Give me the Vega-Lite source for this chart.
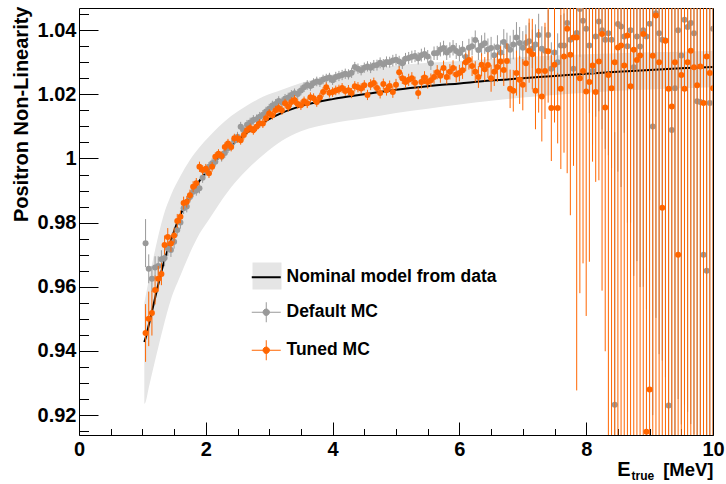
{
"$schema": "https://vega.github.io/schema/vega-lite/v6.json",
"width": 634, "height": 427,
"autosize": {"type": "none"},
"padding": {"left": 79, "top": 8, "right": 13, "bottom": 49},
"background": "white",
"config": {
 "view": {"stroke": "black", "strokeWidth": 1},
 "axis": {"grid": false, "domain": false, "labelFont": "Liberation Sans", "labelFontWeight": "bold", "labelFontSize": 20, "labelColor": "black", "titleFont": "Liberation Sans", "titleFontWeight": "bold", "titleFontSize": 20, "titleColor": "black", "tickColor": "black", "tickWidth": 1},
 "legend": {"labelFont": "Liberation Sans", "labelFontWeight": "bold", "labelFontSize": 17.5, "labelColor": "black", "labelLimit": 400}
},
"datasets": {
 "band": [
  {"x":1.03,"nom":0.9428,"lo":0.9235,"hi":0.955},
  {"x":1.05,"nom":0.944,"lo":0.924,"hi":0.957},
  {"x":1.1,"nom":0.948,"lo":0.9285,"hi":0.962},
  {"x":1.2,"nom":0.9565,"lo":0.937,"hi":0.9715},
  {"x":1.33,"nom":0.967,"lo":0.9475,"hi":0.982},
  {"x":1.45,"nom":0.9745,"lo":0.956,"hi":0.9885},
  {"x":1.6,"nom":0.9825,"lo":0.9635,"hi":0.9945},
  {"x":1.75,"nom":0.9883,"lo":0.9705,"hi":0.9995},
  {"x":1.9,"nom":0.993,"lo":0.9765,"hi":1.0035},
  {"x":2.05,"nom":0.9968,"lo":0.981,"hi":1.0068},
  {"x":2.2,"nom":1.0005,"lo":0.9855,"hi":1.0098},
  {"x":2.4,"nom":1.004,"lo":0.991,"hi":1.0132},
  {"x":2.65,"nom":1.008,"lo":0.9965,"hi":1.0165},
  {"x":2.9,"nom":1.0112,"lo":1.001,"hi":1.0192},
  {"x":3.2,"nom":1.0142,"lo":1.0055,"hi":1.0214},
  {"x":3.5,"nom":1.0163,"lo":1.0085,"hi":1.0235},
  {"x":4.0,"nom":1.0185,"lo":1.011,"hi":1.0262},
  {"x":4.5,"nom":1.02,"lo":1.0125,"hi":1.0278},
  {"x":5.0,"nom":1.0214,"lo":1.0142,"hi":1.029},
  {"x":5.5,"nom":1.0225,"lo":1.0155,"hi":1.0298},
  {"x":6.0,"nom":1.0234,"lo":1.0168,"hi":1.0304},
  {"x":6.5,"nom":1.0243,"lo":1.018,"hi":1.031},
  {"x":7.0,"nom":1.025,"lo":1.019,"hi":1.0316},
  {"x":7.5,"nom":1.0257,"lo":1.0198,"hi":1.0321},
  {"x":8.0,"nom":1.0264,"lo":1.0205,"hi":1.0325},
  {"x":8.5,"nom":1.027,"lo":1.0211,"hi":1.0328},
  {"x":9.0,"nom":1.0276,"lo":1.0215,"hi":1.0331},
  {"x":9.5,"nom":1.0281,"lo":1.0219,"hi":1.0333},
  {"x":10.0,"nom":1.0285,"lo":1.0222,"hi":1.0335}
 ],
 "def": [
  {"x":1.05,"y":0.9736,"e":0.0075},{"x":1.1,"y":0.9656,"e":0.0045},{"x":1.15,"y":0.9625,"e":0.004},{"x":1.2,"y":0.966,"e":0.0035},
  {"x":1.25,"y":0.9665,"e":0.003},{"x":1.3,"y":0.9686,"e":0.0028},{"x":1.35,"y":0.969,"e":0.0026},{"x":1.4,"y":0.972,"e":0.0024},
  {"x":1.45,"y":0.9715,"e":0.0022},{"x":1.5,"y":0.974,"e":0.0021},{"x":1.55,"y":0.9777,"e":0.002},{"x":1.6,"y":0.98,"e":0.0019},
  {"x":1.65,"y":0.9845,"e":0.0018},{"x":1.7,"y":0.985,"e":0.0018},{"x":1.75,"y":0.988,"e":0.0017},{"x":1.8,"y":0.9896,"e":0.0017},
  {"x":1.85,"y":0.99,"e":0.0016},{"x":1.9,"y":0.9907,"e":0.0016},{"x":1.95,"y":0.994,"e":0.0016},{"x":2.0,"y":0.996,"e":0.0015},
  {"x":2.05,"y":0.9974,"e":0.0015},{"x":2.1,"y":0.9985,"e":0.0015},{"x":2.15,"y":0.999,"e":0.0015},{"x":2.2,"y":1.001,"e":0.0015},
  {"x":2.25,"y":1.0005,"e":0.0015},{"x":2.3,"y":1.0017,"e":0.0015},{"x":2.35,"y":1.0032,"e":0.0015},{"x":2.4,"y":1.004,"e":0.0015},
  {"x":2.45,"y":1.0057,"e":0.0015},{"x":2.5,"y":1.0068,"e":0.0015},{"x":2.55,"y":1.0099,"e":0.0015},{"x":2.6,"y":1.0088,"e":0.0015},
  {"x":2.65,"y":1.0105,"e":0.0015},{"x":2.7,"y":1.0112,"e":0.0015},{"x":2.75,"y":1.012,"e":0.0015},{"x":2.8,"y":1.0122,"e":0.0015},
  {"x":2.85,"y":1.013,"e":0.0015},{"x":2.9,"y":1.0136,"e":0.0015},{"x":2.95,"y":1.0146,"e":0.0015},{"x":3.0,"y":1.0155,"e":0.0015},
  {"x":3.05,"y":1.0165,"e":0.0015},{"x":3.1,"y":1.017,"e":0.0015},{"x":3.15,"y":1.0179,"e":0.0015},{"x":3.2,"y":1.0175,"e":0.0015},
  {"x":3.25,"y":1.0186,"e":0.0015},{"x":3.3,"y":1.019,"e":0.0015},{"x":3.35,"y":1.0198,"e":0.0015},{"x":3.4,"y":1.0203,"e":0.0015},
  {"x":3.45,"y":1.0201,"e":0.0015},{"x":3.5,"y":1.0212,"e":0.0015},{"x":3.55,"y":1.0222,"e":0.0015},{"x":3.6,"y":1.0229,"e":0.0015},
  {"x":3.65,"y":1.0226,"e":0.0015},{"x":3.7,"y":1.0235,"e":0.0015},{"x":3.75,"y":1.024,"e":0.0015},{"x":3.8,"y":1.0238,"e":0.0015},
  {"x":3.85,"y":1.0246,"e":0.0015},{"x":3.9,"y":1.0249,"e":0.0015},{"x":3.95,"y":1.0252,"e":0.0015},{"x":4.0,"y":1.0244,"e":0.0015},
  {"x":4.05,"y":1.0254,"e":0.0016},{"x":4.1,"y":1.0257,"e":0.0016},{"x":4.15,"y":1.026,"e":0.0016},{"x":4.2,"y":1.0264,"e":0.0016},
  {"x":4.25,"y":1.0262,"e":0.0016},{"x":4.3,"y":1.0267,"e":0.0016},{"x":4.35,"y":1.0285,"e":0.0016},{"x":4.4,"y":1.028,"e":0.0016},
  {"x":4.45,"y":1.0275,"e":0.0016},{"x":4.5,"y":1.0283,"e":0.0016},{"x":4.55,"y":1.0287,"e":0.0016},{"x":4.6,"y":1.0283,"e":0.0017},
  {"x":4.65,"y":1.029,"e":0.0017},{"x":4.7,"y":1.0291,"e":0.0017},{"x":4.75,"y":1.0298,"e":0.0017},{"x":4.8,"y":1.0293,"e":0.0017},
  {"x":4.85,"y":1.0301,"e":0.0017},{"x":4.9,"y":1.03,"e":0.0017},{"x":4.95,"y":1.0305,"e":0.0018},{"x":5.0,"y":1.0308,"e":0.0018},
  {"x":5.05,"y":1.0302,"e":0.0018},{"x":5.1,"y":1.0297,"e":0.0018},{"x":5.15,"y":1.0311,"e":0.0018},{"x":5.2,"y":1.0313,"e":0.0019},
  {"x":5.25,"y":1.0317,"e":0.0019},{"x":5.3,"y":1.0319,"e":0.0019},{"x":5.35,"y":1.0312,"e":0.0019},{"x":5.4,"y":1.0322,"e":0.002},
  {"x":5.45,"y":1.0326,"e":0.002},{"x":5.5,"y":1.0318,"e":0.002},{"x":5.55,"y":1.0297,"e":0.0021},{"x":5.6,"y":1.0328,"e":0.0021},
  {"x":5.65,"y":1.0329,"e":0.0022},{"x":5.7,"y":1.034,"e":0.0022},{"x":5.75,"y":1.0344,"e":0.0023},{"x":5.8,"y":1.033,"e":0.0023},
  {"x":5.85,"y":1.0338,"e":0.0024},{"x":5.9,"y":1.0345,"e":0.0024},{"x":5.95,"y":1.0335,"e":0.0025},{"x":6.0,"y":1.0328,"e":0.0025},
  {"x":6.05,"y":1.034,"e":0.0026},{"x":6.1,"y":1.0316,"e":0.0027},{"x":6.15,"y":1.0345,"e":0.0028},{"x":6.2,"y":1.035,"e":0.0029},
  {"x":6.25,"y":1.0369,"e":0.003},{"x":6.3,"y":1.0338,"e":0.0031},{"x":6.35,"y":1.0352,"e":0.0032},{"x":6.4,"y":1.0359,"e":0.0033},
  {"x":6.45,"y":1.034,"e":0.0034},{"x":6.5,"y":1.0344,"e":0.0035},{"x":6.55,"y":1.0322,"e":0.0036},{"x":6.6,"y":1.0347,"e":0.0037},
  {"x":6.65,"y":1.033,"e":0.0038},{"x":6.7,"y":1.0363,"e":0.004},{"x":6.75,"y":1.035,"e":0.0042},{"x":6.8,"y":1.0339,"e":0.0044},
  {"x":6.85,"y":1.0355,"e":0.0046},{"x":6.9,"y":1.0377,"e":0.0048},{"x":6.95,"y":1.036,"e":0.005},{"x":7.0,"y":1.0345,"e":0.0052},
  {"x":7.05,"y":1.036,"e":0.0055},{"x":7.1,"y":1.0365,"e":0.0058},{"x":7.15,"y":1.0342,"e":0.006},{"x":7.2,"y":1.0355,"e":0.0063},
  {"x":7.25,"y":1.0385,"e":0.0066},{"x":7.3,"y":1.0342,"e":0.007},{"x":7.35,"y":1.0336,"e":0.0074},{"x":7.4,"y":1.0385,"e":0.0078},
  {"x":7.45,"y":1.028,"e":0.0082},{"x":7.5,"y":1.033,"e":0.0086},{"x":7.55,"y":1.03,"e":0.009},{"x":7.6,"y":1.0352,"e":0.0095},
  {"x":7.65,"y":1.0352,"e":0.01},{"x":7.7,"y":1.0422,"e":0.011},{"x":7.75,"y":1.037,"e":0.012},{"x":7.8,"y":1.028,"e":0.013},
  {"x":7.85,"y":1.0391,"e":0.014},{"x":7.9,"y":1.0466,"e":0.015},{"x":7.95,"y":1.0429,"e":0.017},{"x":8.0,"y":1.0404,"e":0.019},
  {"x":8.05,"y":1.0352,"e":0.021},{"x":8.1,"y":1.0273,"e":0.023},{"x":8.15,"y":1.038,"e":0.025},{"x":8.2,"y":1.0427,"e":0.028},
  {"x":8.25,"y":1.04,"e":0.031},{"x":8.3,"y":1.037,"e":0.034},{"x":8.35,"y":1.039,"e":0.038},{"x":8.4,"y":1.037,"e":0.04},
  {"x":8.45,"y":0.9232,"e":0.085},{"x":8.5,"y":1.0419,"e":0.046},{"x":8.55,"y":1.0411,"e":0.05},{"x":8.6,"y":1.038,"e":0.03},
  {"x":8.65,"y":1.035,"e":0.055},{"x":8.7,"y":1.04,"e":0.06},{"x":8.75,"y":1.0284,"e":0.065},{"x":8.8,"y":1.038,"e":0.07},
  {"x":8.85,"y":1.0349,"e":0.075},{"x":8.9,"y":1.04,"e":0.08},{"x":8.95,"y":1.038,"e":0.085},{"x":9.0,"y":1.042,"e":0.055},
  {"x":9.05,"y":1.01,"e":0.09},{"x":9.1,"y":1.0453,"e":0.095},{"x":9.15,"y":1.039,"e":0.1},{"x":9.2,"y":1.037,"e":0.1},
  {"x":9.25,"y":1.0368,"e":0.105},{"x":9.3,"y":0.923,"e":0.11},{"x":9.35,"y":1.0089,"e":0.11},{"x":9.4,"y":1.0219,"e":0.11},
  {"x":9.45,"y":1.04,"e":0.115},{"x":9.5,"y":1.0321,"e":0.115},{"x":9.55,"y":1.0432,"e":0.12},{"x":9.6,"y":1.041,"e":0.12},
  {"x":9.65,"y":1.0422,"e":0.125},{"x":9.7,"y":1.039,"e":0.125},{"x":9.75,"y":1.0178,"e":0.13},{"x":9.8,"y":1.0176,"e":0.13},
  {"x":9.85,"y":0.97,"e":0.135},{"x":9.9,"y":0.965,"e":0.135},{"x":9.95,"y":1.0173,"e":0.14},{"x":10.0,"y":1.0404,"e":0.14}
 ],
 "tun": [
  {"x":1.05,"y":0.9456,"e":0.009},{"x":1.1,"y":0.95,"e":0.0085},{"x":1.15,"y":0.9518,"e":0.007},{"x":1.2,"y":0.959,"e":0.0045},
  {"x":1.25,"y":0.9625,"e":0.004},{"x":1.3,"y":0.964,"e":0.0035},{"x":1.35,"y":0.973,"e":0.003},{"x":1.4,"y":0.9755,"e":0.0028},
  {"x":1.45,"y":0.9735,"e":0.0026},{"x":1.5,"y":0.976,"e":0.0024},{"x":1.55,"y":0.9805,"e":0.0022},{"x":1.6,"y":0.9818,"e":0.002},
  {"x":1.65,"y":0.9861,"e":0.002},{"x":1.7,"y":0.9865,"e":0.0018},{"x":1.75,"y":0.9885,"e":0.0018},{"x":1.8,"y":0.9912,"e":0.0017},
  {"x":1.85,"y":0.9923,"e":0.0016},{"x":1.9,"y":0.9974,"e":0.0016},{"x":1.95,"y":0.9964,"e":0.0015},{"x":2.0,"y":0.9968,"e":0.0015},
  {"x":2.05,"y":0.9954,"e":0.0015},{"x":2.1,"y":0.9974,"e":0.0015},{"x":2.15,"y":1.0005,"e":0.0014},{"x":2.2,"y":1.0015,"e":0.0014},
  {"x":2.25,"y":1.0008,"e":0.0014},{"x":2.3,"y":1.0036,"e":0.0014},{"x":2.35,"y":1.0047,"e":0.0014},{"x":2.4,"y":1.0036,"e":0.0014},
  {"x":2.45,"y":1.0063,"e":0.0014},{"x":2.5,"y":1.0063,"e":0.0014},{"x":2.55,"y":1.0057,"e":0.0014},{"x":2.6,"y":1.0073,"e":0.0014},
  {"x":2.65,"y":1.0088,"e":0.0014},{"x":2.7,"y":1.0095,"e":0.0014},{"x":2.75,"y":1.0088,"e":0.0014},{"x":2.8,"y":1.0099,"e":0.0014},
  {"x":2.85,"y":1.0109,"e":0.0014},{"x":2.9,"y":1.0109,"e":0.0014},{"x":2.95,"y":1.0125,"e":0.0014},{"x":3.0,"y":1.014,"e":0.0014},
  {"x":3.05,"y":1.0135,"e":0.0014},{"x":3.1,"y":1.015,"e":0.0014},{"x":3.15,"y":1.0157,"e":0.0014},{"x":3.2,"y":1.015,"e":0.0014},
  {"x":3.25,"y":1.0172,"e":0.0014},{"x":3.3,"y":1.0161,"e":0.0015},{"x":3.35,"y":1.0176,"e":0.0015},{"x":3.4,"y":1.0182,"e":0.0015},
  {"x":3.45,"y":1.017,"e":0.0015},{"x":3.5,"y":1.0166,"e":0.0015},{"x":3.55,"y":1.0178,"e":0.0015},{"x":3.6,"y":1.0172,"e":0.0015},
  {"x":3.65,"y":1.0191,"e":0.0015},{"x":3.7,"y":1.0188,"e":0.0015},{"x":3.75,"y":1.0176,"e":0.0015},{"x":3.8,"y":1.019,"e":0.0015},
  {"x":3.85,"y":1.0207,"e":0.0015},{"x":3.9,"y":1.0222,"e":0.0015},{"x":3.95,"y":1.0205,"e":0.0015},{"x":4.0,"y":1.0207,"e":0.0015},
  {"x":4.05,"y":1.0212,"e":0.0015},{"x":4.1,"y":1.0215,"e":0.0015},{"x":4.15,"y":1.022,"e":0.0015},{"x":4.2,"y":1.021,"e":0.0015},
  {"x":4.25,"y":1.0213,"e":0.0016},{"x":4.3,"y":1.0204,"e":0.0016},{"x":4.35,"y":1.0225,"e":0.0016},{"x":4.4,"y":1.0222,"e":0.0016},
  {"x":4.45,"y":1.0218,"e":0.0016},{"x":4.5,"y":1.0228,"e":0.0016},{"x":4.55,"y":1.0198,"e":0.0016},{"x":4.6,"y":1.023,"e":0.0017},
  {"x":4.65,"y":1.0235,"e":0.0017},{"x":4.7,"y":1.022,"e":0.0017},{"x":4.75,"y":1.0204,"e":0.0017},{"x":4.8,"y":1.0232,"e":0.0017},
  {"x":4.85,"y":1.0213,"e":0.0017},{"x":4.9,"y":1.0226,"e":0.0017},{"x":4.95,"y":1.0207,"e":0.0018},{"x":5.0,"y":1.023,"e":0.0018},
  {"x":5.05,"y":1.0269,"e":0.0018},{"x":5.1,"y":1.025,"e":0.0018},{"x":5.15,"y":1.0238,"e":0.0018},{"x":5.2,"y":1.0245,"e":0.0019},
  {"x":5.25,"y":1.025,"e":0.0019},{"x":5.3,"y":1.0236,"e":0.0019},{"x":5.35,"y":1.0204,"e":0.0019},{"x":5.4,"y":1.0238,"e":0.002},
  {"x":5.45,"y":1.0252,"e":0.002},{"x":5.5,"y":1.0238,"e":0.002},{"x":5.55,"y":1.0244,"e":0.0021},{"x":5.6,"y":1.0254,"e":0.0021},
  {"x":5.65,"y":1.0269,"e":0.0022},{"x":5.7,"y":1.0258,"e":0.0022},{"x":5.75,"y":1.0282,"e":0.0023},{"x":5.8,"y":1.0254,"e":0.0023},
  {"x":5.85,"y":1.027,"e":0.0024},{"x":5.9,"y":1.0282,"e":0.0024},{"x":5.95,"y":1.0262,"e":0.0025},{"x":6.0,"y":1.0266,"e":0.0026},
  {"x":6.05,"y":1.0275,"e":0.0027},{"x":6.1,"y":1.03,"e":0.0028},{"x":6.15,"y":1.0307,"e":0.003},{"x":6.2,"y":1.0288,"e":0.0031},
  {"x":6.25,"y":1.027,"e":0.0033},{"x":6.3,"y":1.0254,"e":0.0034},{"x":6.35,"y":1.0292,"e":0.0036},{"x":6.4,"y":1.0278,"e":0.0038},
  {"x":6.45,"y":1.0291,"e":0.004},{"x":6.5,"y":1.025,"e":0.0042},{"x":6.55,"y":1.027,"e":0.0044},{"x":6.6,"y":1.0285,"e":0.0046},
  {"x":6.65,"y":1.0302,"e":0.0048},{"x":6.7,"y":1.0276,"e":0.005},{"x":6.75,"y":1.0304,"e":0.0055},{"x":6.8,"y":1.0217,"e":0.006},
  {"x":6.85,"y":1.0211,"e":0.0065},{"x":6.9,"y":1.0266,"e":0.007},{"x":6.95,"y":1.0245,"e":0.0075},{"x":7.0,"y":1.023,"e":0.008},
  {"x":7.05,"y":1.0297,"e":0.009},{"x":7.1,"y":1.0336,"e":0.01},{"x":7.15,"y":1.0325,"e":0.011},{"x":7.2,"y":1.0211,"e":0.012},
  {"x":7.25,"y":1.0273,"e":0.013},{"x":7.3,"y":1.0193,"e":0.014},{"x":7.35,"y":1.0273,"e":0.015},{"x":7.4,"y":1.0334,"e":0.016},
  {"x":7.45,"y":1.0157,"e":0.0165},{"x":7.5,"y":1.0292,"e":0.018},{"x":7.55,"y":1.0157,"e":0.011},{"x":7.6,"y":1.0217,"e":0.025},
  {"x":7.65,"y":1.0318,"e":0.03},{"x":7.7,"y":1.0404,"e":0.045},{"x":7.75,"y":1.0323,"e":0.05},{"x":7.8,"y":1.0377,"e":0.04},
  {"x":7.85,"y":1.0377,"e":0.11},{"x":7.9,"y":1.025,"e":0.067},{"x":7.95,"y":1.0273,"e":0.06},{"x":8.0,"y":1.0209,"e":0.07},
  {"x":8.05,"y":1.0238,"e":0.056},{"x":8.1,"y":1.029,"e":0.03},{"x":8.15,"y":1.0207,"e":0.028},{"x":8.2,"y":1.0302,"e":0.037},
  {"x":8.25,"y":1.0388,"e":0.08},{"x":8.3,"y":1.0159,"e":0.076},{"x":8.35,"y":1.026,"e":0.15},{"x":8.4,"y":1.0219,"e":0.15},
  {"x":8.45,"y":1.03,"e":0.18},{"x":8.5,"y":1.0346,"e":0.15},{"x":8.55,"y":1.0352,"e":0.2},{"x":8.6,"y":1.029,"e":0.16},
  {"x":8.65,"y":1.0383,"e":0.2},{"x":8.7,"y":1.0225,"e":0.17},{"x":8.75,"y":1.0339,"e":0.2},{"x":8.8,"y":1.0307,"e":0.18},
  {"x":8.85,"y":1.0321,"e":0.2},{"x":8.9,"y":1.0388,"e":0.2},{"x":8.95,"y":0.9148,"e":0.2},{"x":9.0,"y":0.928,"e":0.2},
  {"x":9.05,"y":1.032,"e":0.2},{"x":9.1,"y":1.0446,"e":0.2},{"x":9.15,"y":1.03,"e":0.2},{"x":9.2,"y":0.9846,"e":0.2},
  {"x":9.25,"y":1.0367,"e":0.2},{"x":9.3,"y":1.0217,"e":0.2},{"x":9.35,"y":1.0162,"e":0.2},{"x":9.4,"y":1.03,"e":0.2},
  {"x":9.45,"y":0.97,"e":0.2},{"x":9.5,"y":1.026,"e":0.2},{"x":9.55,"y":1.0217,"e":0.2},{"x":9.6,"y":1.03,"e":0.2},
  {"x":9.65,"y":1.0336,"e":0.2},{"x":9.7,"y":1.0284,"e":0.2},{"x":9.75,"y":1.0228,"e":0.2},{"x":9.8,"y":1.0287,"e":0.2},
  {"x":9.85,"y":1.0173,"e":0.2},{"x":9.9,"y":1.0318,"e":0.2},{"x":9.95,"y":1.0266,"e":0.2},{"x":10.0,"y":1.0219,"e":0.2}
 ]
},
"resolve": {"scale": {"x": "shared", "y": "shared"}, "axis": {"x": "independent", "y": "independent"}},
"layer": [
 {"data": {"name": "band"},
  "mark": {"type": "area", "clip": true, "interpolate": "monotone"},
  "encoding": {
   "x": {"field": "x", "type": "quantitative", "scale": {"domain": [0, 10], "nice": false, "zero": false},
    "axis": {"orient": "bottom", "values": [0, 2, 4, 6, 8, 10], "format": "d", "ticks": false, "labelPadding": 4, "labelFlush": false, "labelOverlap": false,
     "title": "[MeV]", "titleFontSize": 18.5, "titleX": 634, "titleY": 40, "titleAlign": "right", "titleBaseline": "alphabetic"}},
   "y": {"field": "lo", "type": "quantitative", "scale": {"domain": [0.9138, 1.0469], "nice": false, "zero": false},
    "axis": {"orient": "left", "values": [0.92, 0.94, 0.96, 0.98, 1.0, 1.02, 1.04], "format": "~g", "ticks": false, "labelPadding": 3,
     "title": "Positron Non-Linearity", "titleX": -52, "titleY": -2, "titleAngle": 270, "titleAlign": "right", "titleBaseline": "alphabetic"}},
   "y2": {"field": "hi"},
   "fill": {"datum": "Nominal model from data", "type": "nominal",
    "scale": {"domain": ["Nominal model from data"], "range": ["#e5e5e5"]},
    "legend": {"orient": "none", "legendX": 173.5, "legendY": 253.5, "title": null, "padding": 0, "rowPadding": 13, "labelOffset": 8.5,
     "symbolType": "M-1,-0.93H1V0.93H-1Z", "symbolSize": 841, "symbolStrokeWidth": 0, "labelExpr": "''", "zindex": 0}}
  }},
 {"data": {"name": "band"},
  "mark": {"type": "line", "clip": true, "interpolate": "monotone", "strokeWidth": 2},
  "encoding": {
   "x": {"field": "x", "type": "quantitative",
    "axis": {"orient": "bottom", "offset": -13, "values": [0, 2, 4, 6, 8, 10], "labels": false, "ticks": true, "tickSize": 13, "title": null}},
   "y": {"field": "nom", "type": "quantitative",
    "axis": {"orient": "left", "offset": -19, "values": [0.92, 0.94, 0.96, 0.98, 1.0, 1.02, 1.04], "labels": false, "ticks": true, "tickSize": 19, "title": null}},
   "color": {"datum": "Nominal model from data", "type": "nominal",
    "scale": {"domain": ["Nominal model from data", "Default MC", "Tuned MC"], "range": ["#000000", "#999999", "#ff6600"]},
    "legend": {"orient": "none", "legendX": 178.5, "legendY": 260.5, "title": null, "padding": 0, "rowPadding": 13, "labelOffset": 11.5,
     "symbolSize": 841, "zindex": 1,
     "encode": {"symbols": {"update": {
      "shape": {"signal": "datum.value === 'Nominal model from data' ? 'M-1,0H1' : 'M-1,0H1M0,-0.69V0.69M-0.22,0A0.22,0.22 0 1,0 0.22,0A0.22,0.22 0 1,0 -0.22,0Z'"},
      "stroke": {"signal": "datum.value === 'Tuned MC' ? '#ff6600' : datum.value === 'Default MC' ? '#999999' : '#000000'"},
      "fill": {"signal": "datum.value === 'Tuned MC' ? '#ff6600' : datum.value === 'Default MC' ? '#999999' : 'transparent'"},
      "strokeWidth": {"signal": "datum.value === 'Nominal model from data' ? 2 : 1"},
      "opacity": {"value": 1}}}}}}
  }},
 {"data": {"name": "def"},
  "mark": {"type": "errorbar", "clip": true, "thickness": 1},
  "encoding": {
   "x": {"field": "x", "type": "quantitative", "axis": null},
   "y": {"field": "y", "type": "quantitative", "axis": null},
   "yError": {"field": "e"},
   "color": {"datum": "Default MC", "type": "nominal"}
  }},
 {"data": {"name": "def"},
  "mark": {"type": "circle", "clip": true, "size": 36, "opacity": 1},
  "encoding": {
   "x": {"field": "x", "type": "quantitative",
    "axis": {"orient": "bottom", "offset": -6.5, "values": [0.5, 1, 1.5, 2.5, 3, 3.5, 4.5, 5, 5.5, 6.5, 7, 7.5, 8.5, 9, 9.5], "labels": false, "ticks": true, "tickSize": 6.5, "title": null}},
   "y": {"field": "y", "type": "quantitative",
    "axis": {"orient": "left", "offset": -9.5, "values": [0.915, 0.925, 0.93, 0.935, 0.945, 0.95, 0.955, 0.965, 0.97, 0.975, 0.985, 0.99, 0.995, 1.005, 1.01, 1.015, 1.025, 1.03, 1.035, 1.045], "labels": false, "ticks": true, "tickSize": 9.5, "title": null}},
   "color": {"datum": "Default MC", "type": "nominal"}
  }},
 {"data": {"name": "tun"},
  "mark": {"type": "errorbar", "clip": true, "thickness": 1},
  "encoding": {
   "x": {"field": "x", "type": "quantitative",
    "axis": {"orient": "bottom", "values": [], "labels": false, "ticks": false, "title": "true", "titleFontSize": 12, "titleX": 552, "titleY": 44, "titleAlign": "left", "titleBaseline": "alphabetic"}},
   "y": {"field": "y", "type": "quantitative", "axis": null},
   "yError": {"field": "e"},
   "color": {"datum": "Tuned MC", "type": "nominal"}
  }},
 {"data": {"name": "tun"},
  "mark": {"type": "circle", "clip": true, "size": 36, "opacity": 1},
  "encoding": {
   "x": {"field": "x", "type": "quantitative",
    "axis": {"orient": "bottom", "values": [], "labels": false, "ticks": false, "title": "E", "titleFontSize": 20, "titleX": 551, "titleY": 40, "titleAlign": "right", "titleBaseline": "alphabetic"}},
   "y": {"field": "y", "type": "quantitative", "axis": null},
   "color": {"datum": "Tuned MC", "type": "nominal"}
  }}
]
}
